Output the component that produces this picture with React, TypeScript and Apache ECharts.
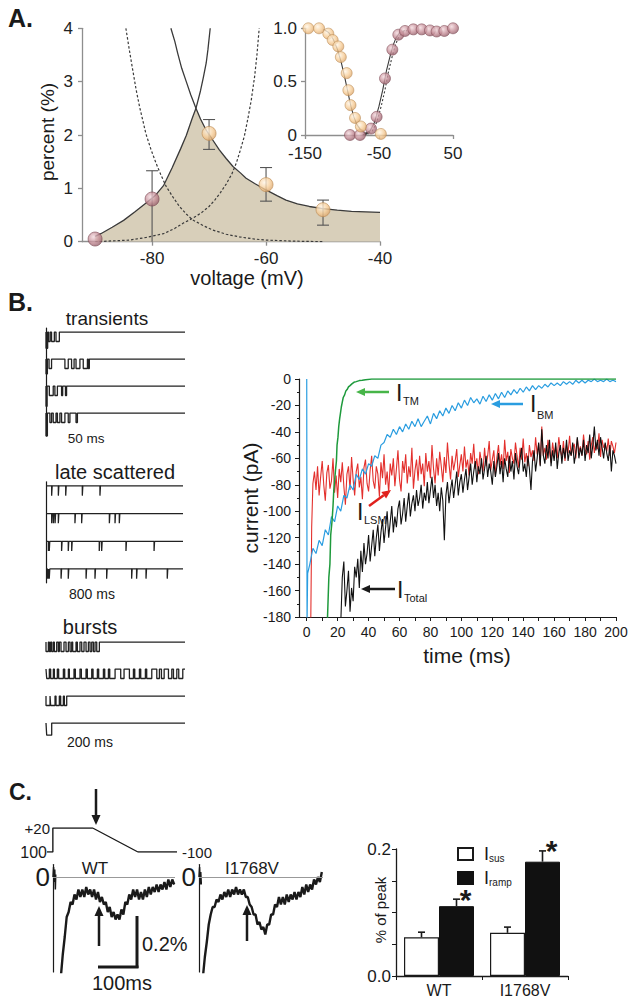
import React, { useEffect, useRef } from "react";
import * as echarts from "echarts";

const FONT = '"Liberation Sans", Arial, Helvetica, sans-serif';
const INK = "#1a1a1a";

// ---------------- Panel A (main) ----------------
const aPinkPts = [[-90, 0.05], [-80, 0.8]];
const aPeachPts = [[-70, 2.03], [-60, 1.07], [-50, 0.6]];
const aErrVolt = [-80, -70, -60, -50];
const aErrLow = [0, 1.73, 0.76, 0.31];
const aErrHigh = [1.33, 2.29, 1.39, 0.78];
const aErrLowCap = [0, 1, 1, 1];
const aRiseSolid = [[-90, 0.1], [-89, 0.15], [-87, 0.27], [-85, 0.4], [-83, 0.56], [-81, 0.73], [-79.5, 0.86], [-78, 1.05], [-76.5, 1.38], [-75, 1.74], [-74, 1.99], [-73, 2.3], [-72.3, 2.5], [-71.5, 2.83], [-71, 3.08], [-70.5, 3.35], [-70.2, 3.6], [-69.8, 4.0]];
const aFallSolid = [[-76.7, 4.0], [-76, 3.75], [-75.5, 3.53], [-74.8, 3.25], [-74, 3.0], [-73.2, 2.75], [-72.3, 2.5], [-71.5, 2.3], [-70.5, 2.09], [-69.5, 1.93], [-68.2, 1.72], [-67, 1.56], [-65.8, 1.41], [-64.5, 1.29], [-63.5, 1.19], [-62, 1.09], [-60, 0.97], [-58, 0.86], [-56.5, 0.78], [-54.5, 0.71], [-52.4, 0.66], [-50, 0.62], [-47.5, 0.59], [-45, 0.57], [-42.5, 0.56], [-40, 0.55]];
const aFallDotted = [[-84.6, 4.0], [-84, 3.6], [-83.4, 3.22], [-82.8, 2.85], [-82.2, 2.53], [-81.6, 2.26], [-81.1, 2.03], [-80.2, 1.73], [-79.3, 1.47], [-78.4, 1.24], [-77.5, 1.03], [-76.3, 0.83], [-75.2, 0.66], [-74, 0.52], [-72.9, 0.41], [-71, 0.3], [-69.4, 0.22], [-67, 0.14], [-64.7, 0.09], [-62, 0.05], [-60, 0.03], [-55, 0.01], [-50, 0.0]];
const aRiseDotted = [[-90, 0.0], [-86, 0.02], [-84, 0.03], [-81, 0.08], [-78, 0.15], [-76, 0.25], [-74.5, 0.35], [-73.2, 0.42], [-71.5, 0.53], [-70, 0.66], [-69, 0.78], [-68, 0.92], [-67, 1.08], [-66, 1.27], [-65.2, 1.48], [-64.5, 1.72], [-63.8, 1.98], [-63.2, 2.3], [-62.6, 2.65], [-62, 3.1], [-61.6, 3.5], [-61.2, 4.0]];
const aEnvelopeSwitch = -72.3;
const aXTicks = [-80, -60, -40];

// ---------------- Panel A (inset) ----------------
const insetInact = [[-145.5, 1.0], [-131, 1.0], [-118.5, 0.95], [-112.6, 0.89], [-105, 0.83], [-101.6, 0.73], [-93.7, 0.58], [-91.4, 0.42], [-88.5, 0.28], [-82.4, 0.16], [-74.5, 0.08], [-47.5, 0.01]];
const insetAct = [[-89.2, 0], [-75.7, 0], [-60.8, 0.06], [-53.2, 0.17], [-41.9, 0.53], [-32, 0.8], [-23.9, 0.94], [-14.9, 0.975], [-3.6, 0.99], [7.7, 0.99], [18.9, 0.98], [27.9, 0.97], [38.3, 0.975], [50, 1.0]];
const insetInactFit = [[-125, 0.99], [-118, 0.96], [-112, 0.9], [-106, 0.8], [-101, 0.68], [-96, 0.53], [-92, 0.4], [-88, 0.27], [-84, 0.17], [-80, 0.1], [-75, 0.05], [-70, 0.02], [-64, 0.01]];
const insetActFit = [[-72, 0], [-62, 0.04], [-56, 0.12], [-50, 0.27], [-45, 0.42], [-40, 0.6], [-35, 0.74], [-31, 0.84], [-27, 0.91], [-22, 0.96], [-15, 0.98]];
const insetActFitDotted = [[-69, 0], [-59, 0.04], [-53, 0.12], [-47, 0.27], [-42, 0.42], [-37, 0.6], [-32, 0.74], [-28, 0.84], [-24, 0.91], [-19, 0.96], [-12, 0.98]];
const insetXTicks = [-150, -50, 50];

// ---------------- Panel B (single-channel records) ----------------
const transientsMs = 50;
const transientRows = [
  [[0, 0.6, 0.6], [0.9, 1.5], [2.0, 3.0], [3.6, 4.8]],
  [[0, 0.5, 0.55], [1.1, 2.0], [6.8, 8.0], [9.2, 10.1], [10.8, 12.2], [13.4, 14.9], [15.2, 15.6]],
  [[0, 0.4, 0.75], [1.2, 2.6], [3.2, 4.1], [5.6, 6.0], [7.0, 7.4]],
  [[0, 0.5, 0.85], [1.4, 2.0], [2.6, 3.6], [4.1, 5.0], [5.6, 6.8], [8.0, 8.6], [10.8, 11.3]],
];
const lateMs = 800;
const lateSpikeDur = 3;
const lateRows = [
  [33, 72, 115, 212, 315],
  [33, 43, 53, 72, 169, 208, 370, 403, 428],
  [14, 19, 91, 130, 150, 311, 325, 467, 631],
  [8, 14, 19, 88, 130, 234, 286, 354, 500, 529, 584, 708],
];
const burstMs = 200;
const burstRows = [
  [[0, 3.4], [4.8, 6.7], [8.2, 10.6], [12, 15.4], [17.8, 19.2], [21.6, 25.9], [28.8, 32.2], [34.6, 37], [38.4, 43.2], [45.1, 48.9], [51.4, 54.7], [57.6, 61], [63.4, 65.8], [68.2, 70.6], [73, 76.8]],
  [[1, 4.8], [6.7, 10.6], [12, 16.3], [18.2, 25], [26.9, 32.2], [33.6, 40.3], [42.2, 48.9], [50.9, 57.6], [59.5, 65.8], [67.7, 73.9], [75.8, 82.6], [84.5, 89.8], [91.7, 99.4], [107.5, 112.3], [120, 125.8], [127.7, 134.4], [136.3, 143], [144.9, 152.2], [159.4, 163.2], [166.1, 170], [176.2, 181], [183.4, 188.2], [191, 196.8]],
  [[0, 5.8], [6.7, 13], [14.4, 19.2], [21.1, 25], [26.4, 29.8]],
  [[1, 8.2, 0.45]],
];
const openDepth = 0.35;

// ---------------- Panel B (macroscopic currents) ----------------
const bTimeTicks = [0, 10, 20, 30, 40, 50, 60, 70, 80, 90, 100, 110, 120, 130, 140, 150, 160, 170, 180, 190, 200];
const bTimeLabels = [0, 20, 40, 60, 80, 100, 120, 140, 160, 180, 200];
const greenPts = [[13.3, -185], [14.3, -150], [15, -140], [15.5, -118], [16.4, -107], [17, -96], [17.5, -84], [18.6, -69], [19.2, -62], [19.6, -50], [20.2, -44], [20.7, -36], [21.3, -30], [21.8, -26], [22.4, -21], [22.9, -18], [23.6, -14], [24.5, -12], [25.3, -9], [26.1, -8], [27, -6], [28, -5], [29.4, -3.5], [30.5, -2.5], [32, -2], [34, -1.2], [35.9, -1], [38, -0.5], [42, 0], [200, 0]];
const blueHead = [[0, 0], [0.2, -185], [0.6, -147]];
const blueT0 = 2;
const blueStep = 2;
const bluePA = [
  -140, -128, -132, -122, -126, -114, -118, -104, -108, -96,
  -100, -88, -90, -80, -84, -72, -76, -68, -72, -64,
  -66, -58, -60, -50, -48, -42, -44, -38, -42, -36,
  -40, -34, -38, -32, -36, -30, -36, -32, -28, -34,
  -26, -30, -24, -28, -22, -26, -20, -24, -18, -22,
  -16, -20, -14, -18, -15, -19, -13, -17, -12, -16,
  -11, -15, -10, -14, -9, -12, -8, -11, -7, -10,
  -6, -9, -5, -8, -5, -7, -4, -6, -3, -5,
  -3, -5, -2, -4, -2, -4, -1, -3, -1, -3,
  -1, -2, 0, -2, -1, -2, 0, -2, -1, -2,
];
const redHead = [[2.6, -185], [3.2, -112]];
const redT0 = 4;
const redStep = 1;
const redPA = [
  -79, -70, -84, -66, -88, -74, -62, -80, -92, -71,
  -65, -83, -77, -60, -86, -73, -90, -68, -78, -63,
  -81, -95, -72, -66, -84, -59, -76, -88, -70, -64,
  -82, -74, -91, -67, -61, -79, -85, -69, -58, -77,
  -83, -66, -72, -89, -63, -75, -57, -80, -70, -86,
  -64, -73, -60, -81, -68, -54, -76, -85, -62, -71,
  -57, -79, -66, -74, -52, -83, -69, -61, -77, -58,
  -72, -64, -81, -56, -70, -62, -75, -50, -68, -79,
  -60, -73, -55, -66, -78, -59, -71, -48, -64, -76,
  -58, -69, -62, -53, -74, -65, -57, -70, -51, -67,
  -61, -73, -56, -64, -49, -68, -60, -72, -55, -63,
  -70, -52, -66, -58, -47, -69, -61, -54, -73, -59,
  -50, -65, -57, -68, -46, -62, -55, -71, -53, -60,
  -64, -48, -58, -67, -52, -61, -45, -63, -56, -66,
  -50, -59, -54, -62, -44, -57, -49, -65, -36, -58,
  -52, -61, -46, -55, -63, -48, -57, -51, -60, -44,
  -54, -59, -47, -62, -50, -56, -43, -58, -52, -49,
  -60, -45, -55, -51, -58, -42, -53, -57, -47, -61,
  -50, -44, -56, -48, -53, -41, -59, -46, -52, -49,
  -55, -45, -58, -47, -51, -56, -48,
];
const blackT0 = 22;
const blackStep = 1;
const blackPA = [
  -185, -150, -138, -172, -160, -145, -176, -158, -168, -142,
  -150, -136, -158, -130, -146, -124, -140, -132, -118, -138,
  -126, -114, -134, -120, -110, -130, -116, -106, -124, -112,
  -100, -120, -108, -96, -116, -104, -112, -98, -92, -110,
  -102, -90, -108, -96, -86, -104, -94, -88, -100, -84,
  -96, -90, -80, -98, -86, -92, -78, -94, -84, -74,
  -90, -80, -96, -86, -100, -82, -92, -122, -88, -78,
  -94, -84, -76, -90, -80, -70, -88, -78, -72, -86,
  -76, -68, -84, -74, -64, -80, -70, -62, -78, -66,
  -72, -60, -76, -68, -58, -74, -64, -70, -80, -62,
  -74, -66, -56, -72, -62, -78, -60, -68, -74, -58,
  -70, -62, -76, -56, -66, -72, -60, -52, -70, -64,
  -74, -58, -68, -84, -62, -54, -70, -60, -48, -66,
  -38, -58, -64, -50, -60, -46, -66, -54, -62, -48,
  -68, -56, -50, -64, -52, -60, -46, -62, -54, -58,
  -48, -64, -56, -44, -60, -52, -58, -46, -62, -50,
  -56, -42, -60, -50, -36, -54, -46, -58, -44, -52,
  -60, -48, -56, -62, -50, -70, -54, -58, -64,
];

// ---------------- Panel C ----------------
const protocolPts = [[-15, -100], [0, -100], [0, 20], [102, 20], [218, -100], [318, -100]];
const wtSpike = [[0, 0], [1.5, 0.04], [3, -0.02], [4.5, 0.03], [6, -0.05], [7, 0.01]];
const wtTrace = [[18, -0.45], [20, -0.4], [25, -0.31], [30, -0.24], [35, -0.16], [40, -0.14], [45, -0.1], [50, -0.11], [55, -0.07], [60, -0.09], [65, -0.05], [70, -0.08], [75, -0.05], [80, -0.08], [85, -0.04], [90, -0.07], [95, -0.05], [100, -0.08], [105, -0.05], [110, -0.09], [115, -0.06], [120, -0.1], [125, -0.08], [130, -0.11], [135, -0.1], [140, -0.14], [145, -0.12], [150, -0.16], [155, -0.14], [160, -0.17], [165, -0.15], [170, -0.17], [175, -0.13], [180, -0.15], [185, -0.1], [190, -0.11], [195, -0.07], [200, -0.09], [205, -0.05], [210, -0.08], [215, -0.05], [220, -0.09], [225, -0.06], [230, -0.09], [235, -0.05], [240, -0.08], [245, -0.04], [250, -0.07], [255, -0.04], [260, -0.06], [265, -0.03], [270, -0.06], [275, -0.03], [280, -0.05], [285, -0.02], [290, -0.05], [295, -0.01], [300, -0.04], [305, -0.01], [310, -0.03]];
const mutSpike = [[0, 0], [1.5, 0.04], [3, -0.03], [4.5, 0.02], [6, -0.03]];
const mutTrace = [[8, -0.45], [10, -0.4], [15, -0.32], [20, -0.26], [25, -0.19], [30, -0.15], [35, -0.12], [40, -0.12], [45, -0.09], [50, -0.1], [55, -0.07], [60, -0.09], [65, -0.06], [70, -0.08], [75, -0.05], [80, -0.08], [85, -0.05], [90, -0.07], [95, -0.04], [100, -0.07], [105, -0.05], [110, -0.07], [115, -0.05], [120, -0.08], [125, -0.08], [130, -0.11], [135, -0.12], [140, -0.15], [145, -0.15], [150, -0.19], [155, -0.18], [160, -0.21], [165, -0.2], [170, -0.23], [175, -0.19], [180, -0.19], [185, -0.15], [190, -0.15], [195, -0.11], [200, -0.12], [205, -0.08], [210, -0.11], [215, -0.08], [220, -0.11], [225, -0.07], [230, -0.1], [235, -0.07], [240, -0.09], [245, -0.06], [250, -0.09], [255, -0.06], [260, -0.08], [265, -0.04], [270, -0.07], [275, -0.03], [280, -0.06], [285, -0.03], [290, -0.05], [295, -0.01], [300, -0.03], [305, 0.0], [310, -0.02], [315, 0.02]];
const barCats = ["WT", "I1768V"];
const isusVals = [0.061, 0.068];
const isusErrTop = [0.069, 0.077];
const irampVals = [0.11, 0.18];
const irampErrTop = [0.121, 0.197];

// ---------------- helpers ----------------
const BAR_W = 35;
const sphere = (hi: string, mid: string, lo: string) => ({
  type: "radial", x: 0.38, y: 0.35, r: 0.75,
  colorStops: [{ offset: 0, color: hi }, { offset: 0.55, color: mid }, { offset: 1, color: lo }],
});
const pinkFill = sphere("#f3dade", "#c48c96", "#8a5560");
const peachFill = sphere("#fff5e6", "#f6cd98", "#d69d62");

function stepLine(openings: number[][], base: number, tmax: number) {
  const pts: number[][] = [[0, base]];
  openings.forEach((o) => {
    const d = o[2] !== undefined ? o[2] : openDepth;
    pts.push([o[0], base], [o[0], base - d], [o[1], base - d], [o[1], base]);
  });
  pts.push([tmax, base]);
  return pts;
}

function txt(x: number, y: number, text: string, size: number, align = "center", extra: any = {}, rot = 0) {
  return {
    type: "text", x, y, rotation: rot, silent: true,
    style: {
      text, fontSize: size, fontFamily: FONT, fill: INK,
      textAlign: align, align, textVerticalAlign: "middle", verticalAlign: "middle", ...extra,
    },
  };
}

function arrow(x1: number, y1: number, x2: number, y2: number, color: string, w: number, head: number) {
  const dx = x2 - x1, dy = y2 - y1, L = Math.hypot(dx, dy), ux = dx / L, uy = dy / L;
  const bx = x2 - ux * head, by = y2 - uy * head, hw = head * 0.45;
  return [
    { type: "line", silent: true, shape: { x1, y1, x2: bx, y2: by }, style: { stroke: color, lineWidth: w } },
    { type: "polygon", silent: true, shape: { points: [[x2, y2], [bx - uy * hw, by + ux * hw], [bx + uy * hw, by - ux * hw]] }, style: { fill: color } },
  ];
}

const hiddenAxis = (gi: number, min: number, max: number) => ({ gridIndex: gi, type: "value", min, max, show: false });
const lineAxisY = (gi: number, min: number, max: number, showLine: boolean, extraLabel: any = { show: false }) => ({
  gridIndex: gi, type: "value", min, max,
  axisLine: { show: showLine, onZero: false, lineStyle: { color: INK, width: 1.2 } },
  axisTick: { show: false }, splitLine: { show: false }, axisLabel: extraLabel,
});

const grayAxis = { color: "#8e8e8e", width: 1.3 };

function buildOption() {
  const aEnvelope = aRiseSolid.filter((p) => p[0] <= aEnvelopeSwitch).concat(aFallSolid.filter((p) => p[0] > aEnvelopeSwitch));

  const errRender = (params: any, api: any) => {
    const v = api.value(0), lo = api.value(1), hi = api.value(2), cap = api.value(3);
    const p1 = api.coord([v, lo]);
    const p2 = api.coord([v, hi]);
    const s = { stroke: "#555", lineWidth: 1.1 };
    const children: any[] = [
      { type: "line", shape: { x1: p1[0], y1: p1[1], x2: p2[0], y2: p2[1] }, style: s },
      { type: "line", shape: { x1: p2[0] - 6, y1: p2[1], x2: p2[0] + 6, y2: p2[1] }, style: s },
    ];
    if (cap) children.push({ type: "line", shape: { x1: p1[0] - 6, y1: p1[1], x2: p1[0] + 6, y2: p1[1] }, style: s });
    return { type: "group", children };
  };

  const barErr = (sign: number, star: boolean) => (params: any, api: any) => {
    const c = api.value(0), v = api.value(1), top = api.value(2);
    const p1 = api.coord([c, v]);
    const p2 = api.coord([c, top]);
    const x = p1[0] + (sign * BAR_W) / 2;
    const s = { stroke: INK, lineWidth: 1.6 };
    const children: any[] = [
      { type: "line", shape: { x1: x, y1: p1[1], x2: x, y2: p2[1] }, style: s },
      { type: "line", shape: { x1: x - 3.5, y1: p2[1], x2: x + 3.5, y2: p2[1] }, style: s },
    ];
    if (star) {
      children.push({
        type: "text", x: x + 9, y: p2[1] - 15,
        style: { text: "*", fontSize: 30, fontWeight: "bold", fontFamily: FONT, fill: INK, textAlign: "center", align: "center", textVerticalAlign: "top", verticalAlign: "top" },
      });
    }
    return { type: "group", children };
  };

  const traceSeries = (xi: number, data: number[][], color: string, width: number, z = 2) => ({
    type: "line", xAxisIndex: xi, yAxisIndex: xi, data, showSymbol: false, symbol: "none",
    lineStyle: { color, width }, z, silent: true,
  });

  const series: any[] = [
    // Panel A main
    { type: "line", xAxisIndex: 0, yAxisIndex: 0, data: aEnvelope, symbol: "none", lineStyle: { width: 0 }, areaStyle: { color: "#d8cfba", opacity: 1 }, z: 1, silent: true },
    traceSeries(0, aRiseSolid, "#3a3a3a", 1.3),
    traceSeries(0, aFallSolid, "#3a3a3a", 1.3),
    { ...traceSeries(0, aFallDotted, "#3a3a3a", 1.2), lineStyle: { color: "#3a3a3a", width: 1.2, type: [2.5, 2] } },
    { ...traceSeries(0, aRiseDotted, "#3a3a3a", 1.2), lineStyle: { color: "#3a3a3a", width: 1.2, type: [2.5, 2] } },
    {
      type: "custom", xAxisIndex: 0, yAxisIndex: 0, renderItem: errRender, z: 3, silent: true,
      data: aErrVolt.map((v, i) => [v, aErrLow[i], aErrHigh[i], aErrLowCap[i]]),
    },
    { type: "scatter", xAxisIndex: 0, yAxisIndex: 0, data: aPinkPts, symbolSize: 14, itemStyle: { color: pinkFill, borderColor: "#7d4a55", borderWidth: 0.8 }, z: 4, silent: true },
    { type: "scatter", xAxisIndex: 0, yAxisIndex: 0, data: aPeachPts, symbolSize: 14, itemStyle: { color: peachFill, borderColor: "#b98a55", borderWidth: 0.8 }, z: 4, silent: true },
    // Inset
    traceSeries(1, insetInactFit, "#3a3a3a", 1.1),
    traceSeries(1, insetActFit, "#3a3a3a", 1.1),
    { ...traceSeries(1, insetActFitDotted, "#3a3a3a", 1.1), lineStyle: { color: "#3a3a3a", width: 1.1, type: [2, 2] } },
    { type: "scatter", xAxisIndex: 1, yAxisIndex: 1, data: insetAct, symbolSize: 11, itemStyle: { color: pinkFill, borderColor: "#7d4a55", borderWidth: 0.7 }, z: 4, silent: true },
    { type: "scatter", xAxisIndex: 1, yAxisIndex: 1, data: insetInact, symbolSize: 11, itemStyle: { color: peachFill, borderColor: "#b98a55", borderWidth: 0.7 }, z: 5, silent: true },
  ];

  transientRows.forEach((row, i) => series.push(traceSeries(2, stepLine(row, -i, transientsMs), "#222", 1.3)));
  lateRows.forEach((row, i) => series.push(traceSeries(3, stepLine(row.map((t) => [t, t + lateSpikeDur]), -i, lateMs), "#222", 1.3)));
  burstRows.forEach((row, i) => series.push(traceSeries(4, stepLine(row, -i, burstMs), "#222", 1.3)));

  series.push(
    traceSeries(5, redHead.concat(redPA.map((v, i) => [redT0 + i * redStep, v])), "#e3302d", 1.1, 2),
    traceSeries(5, blueHead.concat(bluePA.map((v, i) => [blueT0 + i * blueStep, v])), "#2a9de0", 1.2, 3),
    traceSeries(5, greenPts, "#1e9a3c", 1.5, 4),
    traceSeries(5, blackPA.map((v, i) => [blackT0 + i * blackStep, v]), "#111", 1.1, 5),
  );

  series.push(
    traceSeries(6, protocolPts, INK, 1.4),
    { ...traceSeries(7, wtSpike, INK, 1.5), markLine: { silent: true, symbol: "none", label: { show: false }, lineStyle: { color: "#999", width: 1, type: "solid" }, data: [{ yAxis: 0 }] } },
    traceSeries(7, wtTrace, INK, 2.4),
    { ...traceSeries(8, mutSpike, INK, 1.5), markLine: { silent: true, symbol: "none", label: { show: false }, lineStyle: { color: "#999", width: 1, type: "solid" }, data: [{ yAxis: 0 }] } },
    traceSeries(8, mutTrace, INK, 2.4),
  );

  series.push(
    { type: "bar", name: "Isus", xAxisIndex: 9, yAxisIndex: 9, data: isusVals, barWidth: BAR_W, barGap: "0%", itemStyle: { color: "#fff", borderColor: INK, borderWidth: 1.2 }, silent: true },
    { type: "bar", name: "Iramp", xAxisIndex: 9, yAxisIndex: 9, data: irampVals, barWidth: BAR_W, barGap: "0%", itemStyle: { color: "#111", borderColor: "#111", borderWidth: 1 }, silent: true },
    { type: "custom", xAxisIndex: 9, yAxisIndex: 9, renderItem: barErr(-1, false), data: barCats.map((c, i) => [i, isusVals[i], isusErrTop[i]]), z: 5, silent: true },
    { type: "custom", xAxisIndex: 9, yAxisIndex: 9, renderItem: barErr(1, true), data: barCats.map((c, i) => [i, irampVals[i], irampErrTop[i]]), z: 5, silent: true },
  );

  const graphicEls: any[] = [
    txt(8, 18, "A.", 25, "left", { fontWeight: "bold" }),
    txt(8, 302, "B.", 25, "left", { fontWeight: "bold" }),
    txt(9, 792, "C.", 23, "left", { fontWeight: "bold" }),
    txt(47, 132, "percent (%)", 19, "center", {}, Math.PI / 2),
    txt(247, 278, "voltage (mV)", 20),
    txt(107, 318, "transients", 19),
    txt(86, 438, "50 ms", 13.5),
    txt(115, 472, "late scattered", 20),
    txt(92, 594, "800 ms", 14),
    txt(90, 627, "bursts", 20),
    txt(90, 742, "200 ms", 14),
    txt(250, 498, "current (pA)", 21, "center", {}, Math.PI / 2),
    txt(467, 655, "time (ms)", 21),
    ...arrow(389, 392, 356, 392, "#47b548", 2.5, 9),
    txt(396, 393, "I", 23, "left"),
    txt(403, 401, "TM", 11, "left"),
    ...arrow(523, 404, 491, 404, "#2a9de0", 2.5, 9),
    txt(530, 404, "I", 23, "left"),
    txt(537, 415, "BM", 11, "left"),
    ...arrow(369, 506, 391, 490, "#e0201c", 2.5, 9),
    txt(357, 512, "I", 23, "left"),
    txt(364, 520, "LSM", 11, "left"),
    ...arrow(395, 589, 361, 589, INK, 2.5, 9),
    txt(397, 590, "I", 23, "left"),
    txt(404, 598, "Total", 11, "left"),
    // Panel C
    txt(50, 828, "+20", 15, "right"),
    txt(47, 852, "100", 16, "right"),
    txt(182, 852, "-100", 15, "left"),
    ...arrow(96, 789, 96, 825, INK, 2.5, 10),
    txt(95, 868, "WT", 17),
    txt(252, 868, "I1768V", 17),
    ...arrow(99, 946, 99, 906, INK, 2.5, 10),
    ...arrow(247, 941, 247, 905, INK, 2.5, 10),
    { type: "line", silent: true, shape: { x1: 137, y1: 916, x2: 137, y2: 968 }, style: { stroke: INK, lineWidth: 3 } },
    { type: "line", silent: true, shape: { x1: 98, y1: 967, x2: 138.5, y2: 967 }, style: { stroke: INK, lineWidth: 3 } },
    txt(142, 944, "0.2%", 20, "left"),
    txt(122, 983, "100ms", 20),
    txt(380, 910, "% of peak", 15, "center", {}, Math.PI / 2),
  ];

  return {
    animation: false,
    backgroundColor: "#ffffff",
    textStyle: { fontFamily: FONT },
    grid: [
      { left: 82, top: 28.3, width: 298, height: 213.4 },
      { left: 305, top: 28.3, width: 148, height: 106.7 },
      { left: 46, top: 328, width: 139, height: 108 },
      { left: 46, top: 481.8, width: 137, height: 101 },
      { left: 46, top: 638, width: 139, height: 101.25 },
      { left: 299, top: 379, width: 317, height: 238 },
      { left: 47, top: 828, width: 130, height: 24 },
      { left: 53, top: 864.5, width: 122, height: 107.5 },
      { left: 199, top: 864.5, width: 124, height: 107.5 },
      { left: 396, top: 849, width: 172, height: 127 },
    ],
    xAxis: [
      {
        gridIndex: 0, type: "value", min: -92.3, max: -40,
        axisLine: { onZero: false, lineStyle: grayAxis },
        axisTick: { customValues: aXTicks, length: 4, lineStyle: grayAxis },
        axisLabel: { customValues: aXTicks, fontSize: 17, color: "#222", margin: 8, fontFamily: FONT },
        splitLine: { show: false },
      },
      {
        gridIndex: 1, type: "value", min: -150, max: 50,
        axisLine: { onZero: false, lineStyle: grayAxis },
        axisTick: { customValues: insetXTicks, length: 4, lineStyle: grayAxis },
        axisLabel: { customValues: insetXTicks, fontSize: 17, color: "#222", margin: 10, fontFamily: FONT },
        splitLine: { show: false },
      },
      hiddenAxis(2, 0, transientsMs),
      hiddenAxis(3, 0, lateMs),
      hiddenAxis(4, 0, burstMs),
      {
        gridIndex: 5, type: "value", min: -5, max: 200,
        axisLine: { onZero: false, lineStyle: { color: INK, width: 1.2 } },
        axisTick: { customValues: bTimeTicks, length: 4, lineStyle: { color: INK } },
        axisLabel: { customValues: bTimeLabels, fontSize: 14, color: INK, margin: 8, fontFamily: FONT },
        splitLine: { show: false },
      },
      hiddenAxis(6, -15, 318),
      hiddenAxis(7, 0, 312),
      hiddenAxis(8, 0, 318),
      {
        gridIndex: 9, type: "category", data: barCats,
        axisLine: { onZero: false, lineStyle: { color: INK, width: 1.3 } },
        axisTick: { show: true, alignWithLabel: false, length: 4, lineStyle: { color: INK } },
        axisLabel: { fontSize: 16, color: INK, margin: 6, fontFamily: FONT },
        splitLine: { show: false },
      },
    ],
    yAxis: [
      {
        gridIndex: 0, type: "value", min: 0, max: 4, interval: 1,
        axisLine: { show: true, onZero: false, lineStyle: grayAxis },
        axisTick: { show: true, length: 4, lineStyle: grayAxis },
        axisLabel: { fontSize: 17, color: "#222", margin: 9, fontFamily: FONT },
        splitLine: { show: false },
      },
      {
        gridIndex: 1, type: "value", min: 0, max: 1, interval: 0.5,
        axisLine: { show: true, onZero: false, lineStyle: grayAxis },
        axisTick: { show: true, length: 4, lineStyle: grayAxis },
        axisLabel: { fontSize: 17, color: "#222", margin: 8, fontFamily: FONT, formatter: (v: number) => (v === 0 ? "0" : v.toFixed(1)) },
        splitLine: { show: false },
      },
      lineAxisY(2, -3.85, 0.15, true),
      lineAxisY(3, -3.5, 0.15, true),
      lineAxisY(4, -3.6, 0.15, false),
      {
        gridIndex: 5, type: "value", min: -180, max: 0, interval: 20,
        axisLine: { show: true, onZero: false, lineStyle: { color: INK, width: 1.2 } },
        axisTick: { show: true, length: 4, lineStyle: { color: INK } },
        minorTick: { show: true, splitNumber: 2, length: 2, lineStyle: { color: INK } },
        axisLabel: { fontSize: 14, color: INK, margin: 8, fontFamily: FONT },
        splitLine: { show: false },
      },
      lineAxisY(6, -100, 20, false),
      lineAxisY(7, -0.38, 0.05, true, { show: true, customValues: [0], fontSize: 26, margin: 3, color: INK, fontFamily: '"Liberation Sans Narrow", "Liberation Sans", Arial' }),
      lineAxisY(8, -0.38, 0.05, true, { show: true, customValues: [0], fontSize: 26, margin: 3, color: INK, fontFamily: '"Liberation Sans Narrow", "Liberation Sans", Arial' }),
      {
        gridIndex: 9, type: "value", min: 0, max: 0.2, interval: 0.05,
        axisLine: { show: true, onZero: false, lineStyle: { color: INK, width: 1.3 } },
        axisTick: { show: true, length: 4, lineStyle: { color: INK } },
        axisLabel: {
          fontSize: 17, color: INK, margin: 5, fontFamily: FONT,
          formatter: (v: number) => (Math.abs(v) < 1e-9 ? "0.0" : Math.abs(v - 0.2) < 1e-9 ? "0.2" : ""),
        },
        splitLine: { show: false },
      },
    ],
    legend: {
      data: ["Isus", "Iramp"], orient: "vertical", left: 452, top: 840,
      itemWidth: 15, itemHeight: 12, itemGap: 6, icon: "rect", selectedMode: false,
      formatter: (n: string) => `{g|}{i|I}{s|${n.slice(1)}}`,
      textStyle: {
        rich: {
          g: { width: 6 },
          i: { fontSize: 18, lineHeight: 18, fontFamily: FONT, color: INK },
          s: { fontSize: 10, lineHeight: 10, verticalAlign: "bottom", fontFamily: FONT, color: INK },
        },
      },
    },
    graphic: { elements: graphicEls },
    series,
  };
}

export default function App() {
  const ref = useRef<HTMLDivElement>(null);
  useEffect(() => {
    if (!ref.current) return;
    const chart = echarts.init(ref.current, undefined, { renderer: "svg" });
    chart.setOption(buildOption() as any);
    return () => chart.dispose();
  }, []);
  return (
    <div
      ref={ref}
      style={{ position: "absolute", left: 0, top: 0, width: 632, height: 1002, background: "#fff" }}
    />
  );
}
